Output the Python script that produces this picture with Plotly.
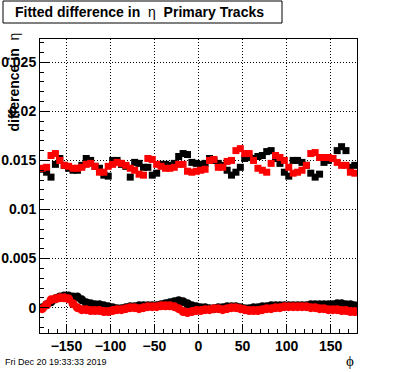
import plotly.graph_objects as go

phi = [-177.5 + 5 * i for i in range(72)]

upper_black = [0.0141, 0.0138, 0.0133, 0.0146, 0.0152, 0.0145, 0.0142, 0.0140, 0.0140, 0.0145,
               0.0152, 0.0150, 0.0144, 0.0142, 0.0135, 0.0134, 0.0150, 0.0150, 0.0146, 0.0144,
               0.0133, 0.0148, 0.0147, 0.0143, 0.0143, 0.0135, 0.0137, 0.0146, 0.0146, 0.0145,
               0.0147, 0.0154, 0.0157, 0.0156, 0.0148, 0.0147, 0.0146, 0.0147, 0.0152, 0.0150,
               0.0147, 0.0145, 0.0140, 0.0135, 0.0138, 0.0143, 0.0152, 0.0153, 0.0152, 0.0154,
               0.0155, 0.0159, 0.0160, 0.0152, 0.0147, 0.0138, 0.0134, 0.0150, 0.0150, 0.0148,
               0.0145, 0.0137, 0.0133, 0.0136, 0.0148, 0.0150, 0.0152, 0.0160, 0.0164, 0.0160,
               0.0143, 0.0145]

upper_red = [0.0142, 0.0143, 0.0155, 0.0157, 0.0150, 0.0145, 0.0144, 0.0142, 0.0142, 0.0143,
             0.0146, 0.0147, 0.0144, 0.0138, 0.0138, 0.0144, 0.0146, 0.0148, 0.0147, 0.0145,
             0.0142, 0.0140, 0.0136, 0.0135, 0.0152, 0.0151, 0.0146, 0.0144, 0.0142, 0.0142,
             0.0143, 0.0146, 0.0146, 0.0139, 0.0138, 0.0139, 0.0140, 0.0141, 0.0150, 0.0151,
             0.0143, 0.0143, 0.0149, 0.0150, 0.0160, 0.0162, 0.0157, 0.0157, 0.0150, 0.0142,
             0.0140, 0.0138, 0.0147, 0.0155, 0.0153, 0.0150, 0.0143, 0.0137, 0.0138, 0.0140,
             0.0145, 0.0157, 0.0158, 0.0153, 0.0153, 0.0153, 0.0152, 0.0148, 0.0145, 0.0145,
             0.0138, 0.0137]

lower_black = [0.0000, 0.0003, 0.0006, 0.0009, 0.0011, 0.0012, 0.0012, 0.0011, 0.0011, 0.0008,
               0.0005, 0.0004, 0.0003, 0.0003, 0.0002, 0.0001, 0.0000, -0.0001, -0.0001, 0.0000,
               0.0001, 0.0001, 0.0002, 0.0002, 0.0002, 0.0002, 0.0002, 0.0003, 0.0004, 0.0005,
               0.0006, 0.0007, 0.0006, 0.0004, 0.0002, 0.0001, 0.0000, 0.0000, -0.0001, -0.0001,
               0.0000, 0.0000, 0.0001, 0.0001, 0.0001, 0.0000, -0.0001, -0.0001, 0.0000, 0.0000,
               0.0001, 0.0001, 0.0002, 0.0002, 0.0002, 0.0002, 0.0002, 0.0002, 0.0002, 0.0002,
               0.0002, 0.0003, 0.0003, 0.0003, 0.0003, 0.0003, 0.0003, 0.0004, 0.0004, 0.0003,
               0.0003, 0.0002]

lower_red = [-0.0001, 0.0003, 0.0008, 0.0009, 0.0010, 0.0010, 0.0009, 0.0004, 0.0000, -0.0002,
             -0.0002, -0.0003, -0.0003, -0.0003, -0.0004, -0.0004, -0.0003, -0.0002, -0.0002, -0.0001,
             0.0000, 0.0000, -0.0001, 0.0000, 0.0001, 0.0001, 0.0001, 0.0002, 0.0002, 0.0002,
             0.0001, -0.0001, -0.0004, -0.0005, -0.0004, -0.0003, -0.0003, -0.0002, -0.0002, -0.0001,
             -0.0001, -0.0002, -0.0001, 0.0000, 0.0000, -0.0001, -0.0002, -0.0003, -0.0003, -0.0003,
             -0.0002, -0.0001, -0.0001, 0.0000, 0.0000, 0.0001, 0.0001, 0.0001, 0.0001, 0.0001,
             0.0001, 0.0000, 0.0000, -0.0001, -0.0001, -0.0002, -0.0002, -0.0002, -0.0003, -0.0003,
             -0.0004, -0.0004]

x_ticks = [-150, -100, -50, 0, 50, 100, 150]
y_ticks = [0, 0.005, 0.01, 0.015, 0.02, 0.025]
y_tick_labels = ["0", "0.005", "0.01", "0.015", "0.02", "0.025"]

W, H = 396, 372
L, R, T, B = 40, 39, 39, 39
pw, ph = W - L - R, H - T - B


def px(x):
    return (x - L) / pw


def py(y):
    return (H - B - y) / ph


fig = go.Figure()
fig.add_trace(go.Scatter(x=phi, y=lower_black, mode="markers",
                         marker=dict(symbol="circle", size=9, color="black"), showlegend=False))
fig.add_trace(go.Scatter(x=phi, y=upper_black, mode="markers",
                         marker=dict(symbol="square", size=7, color="black"), showlegend=False))
fig.add_trace(go.Scatter(x=phi, y=lower_red, mode="markers",
                         marker=dict(symbol="circle", size=9, color="red"), showlegend=False))
fig.add_trace(go.Scatter(x=phi, y=upper_red, mode="markers",
                         marker=dict(symbol="square", size=7, color="red"), showlegend=False))

tickfont = dict(family="Liberation Sans", size=14, color="black", weight="bold")

fig.update_layout(
    width=W, height=H,
    margin=dict(l=L, r=R, t=T, b=B, autoexpand=False),
    paper_bgcolor="white", plot_bgcolor="white",
    xaxis=dict(range=[-180, 180], tickvals=x_ticks, ticks="inside", ticklen=9, automargin=False,
               tickcolor="black", showline=True, linecolor="black", linewidth=1, mirror=True,
               showgrid=True, gridcolor="black", griddash="1px,2px", gridwidth=1, zeroline=False,
               tickfont=tickfont,
               minor=dict(dtick=10, ticks="inside", ticklen=4, tickcolor="black", showgrid=False)),
    yaxis=dict(range=[-0.00258, 0.02737], tickvals=y_ticks, ticktext=y_tick_labels, automargin=False,
               ticks="inside", ticklen=9, tickcolor="black", showline=True, linecolor="black",
               linewidth=1, mirror=True, showgrid=True, gridcolor="black", griddash="1px,2px",
               gridwidth=1, zeroline=False, tickfont=tickfont,
               minor=dict(dtick=0.001, ticks="inside", ticklen=4, tickcolor="black", showgrid=False)),
    shapes=[dict(type="rect", xref="paper", yref="paper", x0=px(3), x1=px(282), y0=py(23), y1=py(1),
                 line=dict(color="black", width=1), fillcolor="white", layer="above")],
    annotations=[
        dict(text="<b>Fitted difference in</b>  η  <b>Primary Tracks</b>", xref="paper", yref="paper",
             x=px(13), y=py(12), xanchor="left", yanchor="middle", showarrow=False,
             font=dict(family="Liberation Sans", size=14, color="black")),
        dict(text="<b>difference in</b>  η", xref="paper", yref="paper", textangle=-90,
             x=px(13), y=py(31), xanchor="center", yanchor="top", showarrow=False,
             font=dict(family="Liberation Sans", size=14, color="black")),
        dict(text="ϕ", xref="paper", yref="paper", x=px(350), y=py(361), xanchor="center",
             yanchor="middle", showarrow=False, font=dict(family="Liberation Serif", size=15, color="black")),
        dict(text="Fri Dec 20 19:33:33 2019", xref="paper", yref="paper", x=px(3), y=py(362),
             xanchor="left", yanchor="middle", showarrow=False,
             font=dict(family="Liberation Sans", size=9, color="black")),
    ],
)

fig.write_html("out.html", config={"displayModeBar": False},
               post_script="document.body.style.margin='0';document.body.style.overflow='hidden';")
